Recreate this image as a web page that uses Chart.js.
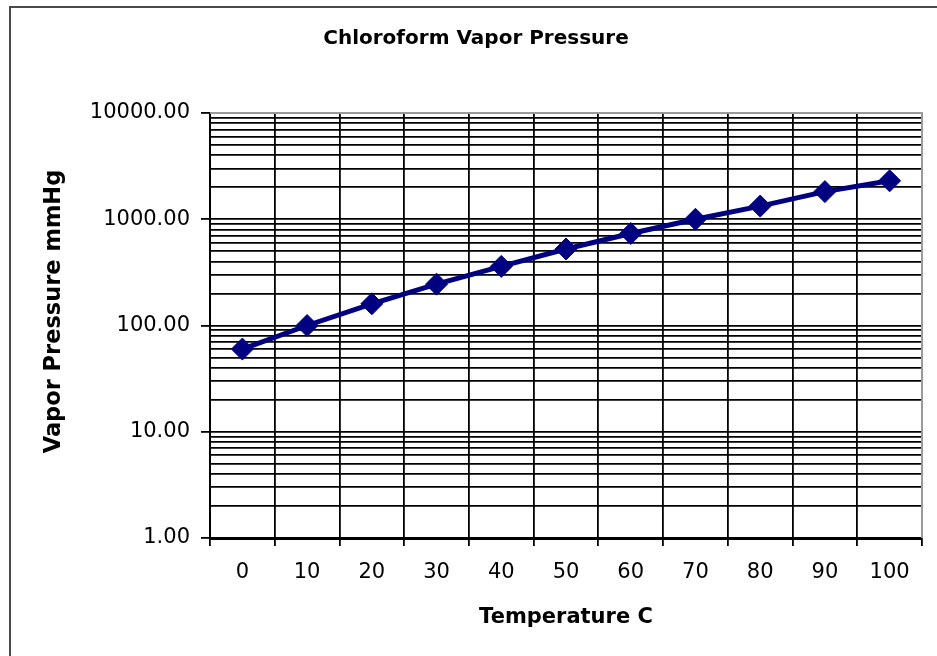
<!DOCTYPE html>
<html>
<head>
<meta charset="utf-8">
<script src="https://cdn.jsdelivr.net/npm/chart.js@4/dist/chart.umd.min.js"></script>
<style>
  html, body { margin: 0; padding: 0; background: #fff; }
  #wrap { width: 937px; height: 656px; position: relative; }
</style>
</head>
<body>
<div id="wrap"><canvas id="chart" width="937" height="656"></canvas></div>
<script>
// data
const temperatures = ['0', '10', '20', '30', '40', '50', '60', '70', '80', '90', '100'];
const pressures = [60, 100, 160, 245, 360, 525, 735, 1000, 1330, 1820, 2300];

// log axis: labelled decades plus unlabelled 2..9 lines
const decades = [1, 10, 100, 1000, 10000];
const minorSteps = [2, 3, 4, 5, 6, 7, 8, 9];

const yTitle = 'Vapor Pressure mmHg';
const navy = '#000080';
const font = "'DejaVu Sans', Arial, sans-serif";

const yTicks = [];
decades.forEach((d, i) => {
  yTicks.push(d);
  if (i < decades.length - 1) minorSteps.forEach((m) => yTicks.push(d * m));
});
const isDecade = (v) => decades.includes(v);

// frame round the chart, grey top/right edge of the plot, y title (sits a bit above centre)
const frame = {
  id: 'frame',
  beforeDatasetsDraw(chart) {
    const { ctx, chartArea: a } = chart;
    ctx.save();
    ctx.strokeStyle = '#9a9a9a';
    ctx.lineWidth = 2;
    ctx.beginPath();
    ctx.moveTo(a.left, a.top);
    ctx.lineTo(a.right, a.top);
    ctx.lineTo(a.right, a.bottom);
    ctx.stroke();
    ctx.restore();
  },
  afterDraw(chart) {
    const { ctx, chartArea: a } = chart;
    ctx.save();
    ctx.strokeStyle = '#4a4a4a';
    ctx.lineWidth = 2;
    ctx.beginPath();
    ctx.moveTo(10, 660);
    ctx.lineTo(10, 7);
    ctx.lineTo(940, 7);
    ctx.stroke();

    ctx.translate(54, (a.top + a.bottom) / 2 - 14);
    ctx.rotate(-Math.PI / 2);
    ctx.fillStyle = '#000';
    ctx.font = 'bold 22.5px ' + font;
    ctx.textAlign = 'center';
    ctx.textBaseline = 'middle';
    ctx.fillText(yTitle, 0, 0);
    ctx.restore();
  },
};

new Chart(document.getElementById('chart'), {
  type: 'line',
  data: {
    labels: temperatures,
    datasets: [{
      data: pressures,
      borderColor: navy,
      backgroundColor: navy,
      borderWidth: 5,
      pointStyle: 'rectRot',
      pointRadius: 11,
      pointBorderWidth: 1,
      tension: 0,
    }],
  },
  options: {
    responsive: false,
    animation: false,
    events: [],
    layout: { padding: { left: 30, right: 15, top: 0, bottom: 0 } },
    plugins: {
      legend: { display: false },
      tooltip: { enabled: false },
      title: {
        display: true,
        text: 'Chloroform Vapor Pressure',
        color: '#000',
        font: { family: font, size: 20, weight: 'bold' },
        padding: { top: 27, bottom: 62 },
      },
    },
    scales: {
      x: {
        type: 'category',
        offset: true,
        grid: {
          offset: true,
          color: '#000',
          lineWidth: 1.8,
          tickLength: 8,
          tickColor: '#000',
        },
        border: { color: '#000', width: 3 },
        ticks: {
          color: '#000',
          font: { family: font, size: 21 },
          padding: 14,
          maxRotation: 0,
          autoSkip: false,
        },
        title: {
          display: true,
          text: 'Temperature C',
          color: '#000',
          font: { family: font, size: 21, weight: 'bold' },
          padding: { top: 0, bottom: 26 },
        },
        afterFit(scale) { scale.height = 118; },
      },
      y: {
        type: 'logarithmic',
        min: 1,
        max: 10000,
        grid: {
          color: '#000',
          lineWidth: 1.8,
          tickLength: 9,
          tickColor: (ctx) => (ctx.tick && isDecade(ctx.tick.value) ? '#000' : 'rgba(0,0,0,0)'),
        },
        border: { color: '#000', width: 2 },
        ticks: {
          color: '#000',
          font: { family: font, size: 21 },
          padding: 11,
          autoSkip: false,
          callback: (v) => (isDecade(v) ? v.toFixed(2) : ''),
        },
        afterBuildTicks(scale) {
          scale.ticks = yTicks.map((v) => ({ value: v, major: isDecade(v) }));
        },
        afterFit(scale) { scale.width = 180; },
      },
    },
  },
  plugins: [frame],
});
</script>
</body>
</html>
